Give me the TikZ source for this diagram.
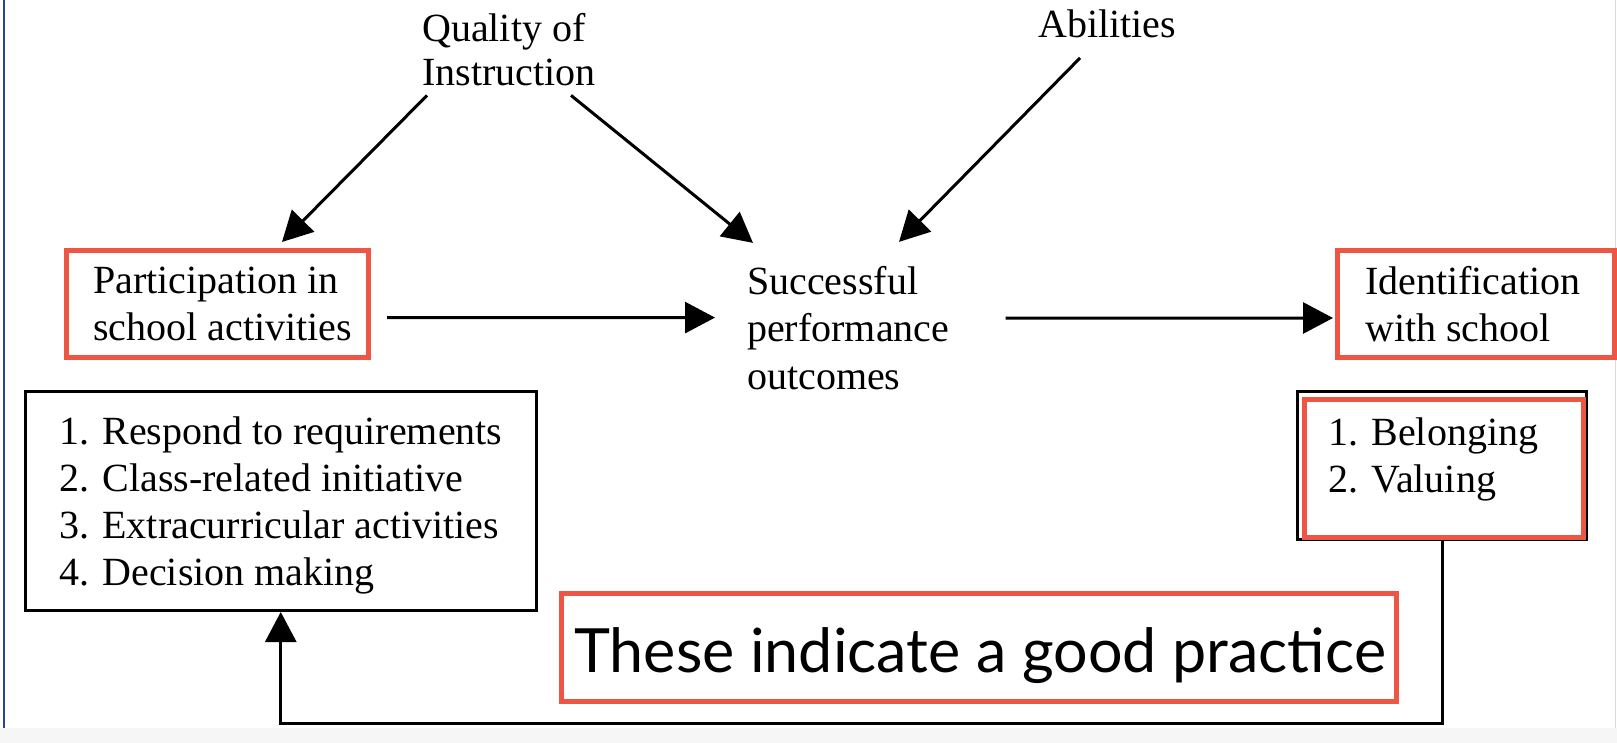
\documentclass[tikz,border=0pt]{standalone}
\usepackage{fontspec}
\setmainfont{Liberation Serif}
\newfontfamily\latofont{Lato}
\usetikzlibrary{arrows.meta,calc}
\definecolor{hlred}{RGB}{236,86,66}
\definecolor{edgeblue}{RGB}{40,70,150}
\begin{document}
\begin{tikzpicture}[x=1pt,y=-1pt,
  txt/.style={inner sep=0pt, anchor=base west, font=\fontsize{40pt}{47pt}\selectfont},
  redbox/.style={draw=hlred, line width=5pt, inner sep=0pt},
  blkbox/.style={draw=black, line width=3pt, inner sep=0pt},
  arr/.style={draw=black, line width=3pt, -{Triangle[length=30pt,width=31pt]}}]
\useasboundingbox (0,0) rectangle (1617,743);
\fill[white] (0,0) rectangle (1617,743);
\fill[gray!7] (0,728) rectangle (1617,743);
\draw[edgeblue, line width=2pt] (3.5,0) -- (3.5,728);
\draw[gray!30, line width=1.2pt] (1615.8,0) -- (1615.8,728);

% text nodes
\node[txt] (qual) at (422,42) {\fontsize{40pt}{44pt}\selectfont\begin{tabular}[t]{@{}l@{}}Quality of\\Instruction\end{tabular}};
\node[txt] (abil) at (1038,38) {Abilities};
\node[txt] (succ) at (747,295) {\begin{tabular}[t]{@{}l@{}}Successful\\performance\\outcomes\end{tabular}};

% participation
\node[redbox, minimum width=302pt, minimum height=107pt] (pbox) at (217.5,304) {};
\node[txt] (ptext) at (93,294) {\begin{tabular}[t]{@{}l@{}}Participation in\\school activities\end{tabular}};

% identification
\node[redbox, minimum width=277pt, minimum height=107pt] (ibox) at (1476,304) {};
\node[txt] (itext) at (1365,295) {\begin{tabular}[t]{@{}l@{}}Identification\\with school\end{tabular}};

% list box
\node[blkbox, minimum width=510.5pt, minimum height=219pt] (lbox) at (280.75,501) {};
\node[txt] (ltext) at (59,444) {\begin{tabular}[t]{@{}l@{}}1. Respond to requirements\\2. Class-related initiative\\3. Extracurricular activities\\4. Decision making\end{tabular}};

% belonging box
\node[blkbox, minimum width=289pt, minimum height=148pt] (rbox) at (1442,465.5) {};
\node[redbox, minimum width=279pt, minimum height=137.5pt] (rred) at (1444,468.25) {};
\node[txt] (rtext) at (1328,445) {\begin{tabular}[t]{@{}l@{}}1. Belonging\\2. Valuing\end{tabular}};

% callout
\node[redbox, minimum width=835pt, minimum height=108pt] (cbox) at (979,647.5) {};
\node[inner sep=0pt, anchor=base west, font=\latofont\fontsize{61pt}{70pt}\selectfont] (ctext) at (574,672) {These indicate a good practice};

% connectors
\draw[arr] ($(qual.south west)+(5,-4)$) -- ($(pbox.north)+(64.5,-6)$);
\draw[arr] ($(qual.south west)+(149,-4)$) -- ($(succ.north west)+(6,-19)$);
\draw[arr] ($(abil.base west)+(42,20)$) -- ($(succ.north west)+(152,-20)$);
\draw[arr] ($(pbox.east)+(16,13.5)$) -- ($(succ.west)+(-32,-15)$);
\draw[arr] ($(succ.east)+(56,-14.5)$) -- ($(ibox.west)+(-2,14)$);
\draw[arr] (rbox.south) -- ++(0,182) -| (lbox.south);
\end{tikzpicture}
\end{document}
